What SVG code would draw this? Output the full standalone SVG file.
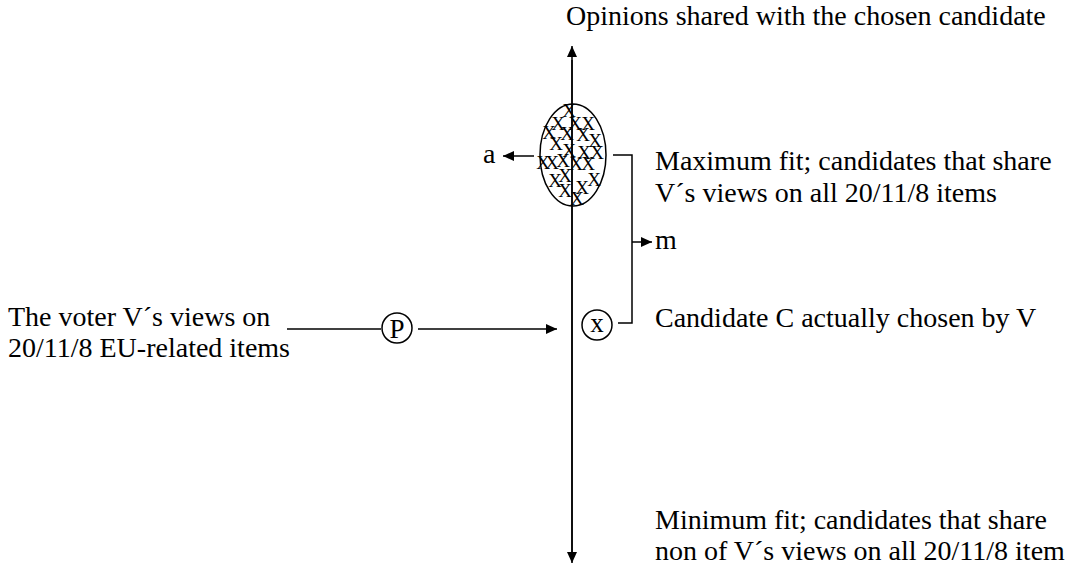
<svg xmlns="http://www.w3.org/2000/svg" width="1076" height="566" viewBox="0 0 1076 566">
<defs>
<marker id="ah" markerWidth="12" markerHeight="10" refX="11" refY="5" orient="auto" markerUnits="userSpaceOnUse">
<path d="M0,0 L11,5 L0,10 Z" fill="#000"/>
</marker>
</defs>
<style>
text{font-family:"Liberation Serif","Times New Roman",serif;fill:#000}
.t{font-size:28px}
.x{font-size:19px;text-anchor:middle}
.c{font-size:27px;text-anchor:middle}
.ln{stroke:#000;stroke-width:1.5;fill:none}
</style>
<rect width="1076" height="566" fill="#fff"/>
<g id="connectors">
<line class="ln" x1="572" y1="560" x2="572" y2="46" marker-end="url(#ah)"/>
<line class="ln" x1="572" y1="60" x2="572" y2="563" marker-end="url(#ah)"/>
<line class="ln" x1="534" y1="156" x2="503" y2="156" marker-end="url(#ah)"/>
<polyline class="ln" points="613,155 632,155 632,323 618,323"/>
<line class="ln" x1="632" y1="242" x2="652" y2="242" marker-end="url(#ah)"/>
<line class="ln" x1="287" y1="329" x2="381" y2="329"/>
<line class="ln" x1="418" y1="329" x2="557" y2="329" marker-end="url(#ah)"/>
</g>
<g id="axis-label"><text class="t" x="566" y="25">Opinions shared with the chosen candidate</text></g>
<g id="cluster">
<ellipse cx="573" cy="155" rx="33" ry="51" fill="none" stroke="#000" stroke-width="1.5"/>
<text class="x" x="569" y="117">X</text>
<text class="x" x="558" y="130">X</text><text class="x" x="575" y="130">X</text><text class="x" x="588" y="130">X</text>
<text class="x" x="549" y="139">X</text><text class="x" x="567" y="140">X</text><text class="x" x="583" y="141">X</text><text class="x" x="595" y="147">X</text>
<text class="x" x="556" y="150">X</text><text class="x" x="569" y="157">X</text><text class="x" x="584" y="159">X</text><text class="x" x="597" y="159">X</text>
<text class="x" x="543" y="169">X</text><text class="x" x="552" y="169">X</text><text class="x" x="563" y="167">X</text><text class="x" x="576" y="170">X</text><text class="x" x="588" y="170">X</text>
<text class="x" x="555" y="187">X</text><text class="x" x="565" y="182">X</text><text class="x" x="582" y="194">X</text><text class="x" x="594" y="186">X</text>
<text class="x" x="565" y="197">X</text><text class="x" x="577" y="205">X</text>
</g>
<g id="label-a"><text class="t" x="483" y="163">a</text></g>
<g id="label-m"><text class="t" x="655" y="249">m</text></g>
<g id="max-fit"><text class="t" x="655" y="170">Maximum fit; candidates that share</text><text class="t" x="655" y="202">V´s views on all 20/11/8 items</text></g>
<g id="candidate"><text class="t" x="655" y="327">Candidate C actually chosen by V</text></g>
<g id="voter"><text class="t" x="8" y="326">The voter V´s views on</text><text class="t" x="8" y="357">20/11/8 EU-related items</text></g>
<g id="min-fit"><text class="t" x="655" y="529">Minimum fit; candidates that share</text><text class="t" x="655" y="560">non of V´s views on all 20/11/8 item</text></g>
<g id="node-p"><circle cx="397" cy="328" r="15" fill="none" stroke="#000" stroke-width="1.5"/><text class="c" x="397" y="337.5">P</text></g>
<g id="node-x"><circle cx="597" cy="325" r="15" fill="none" stroke="#000" stroke-width="1.5"/><text class="c" x="597" y="332">x</text></g>
</svg>
